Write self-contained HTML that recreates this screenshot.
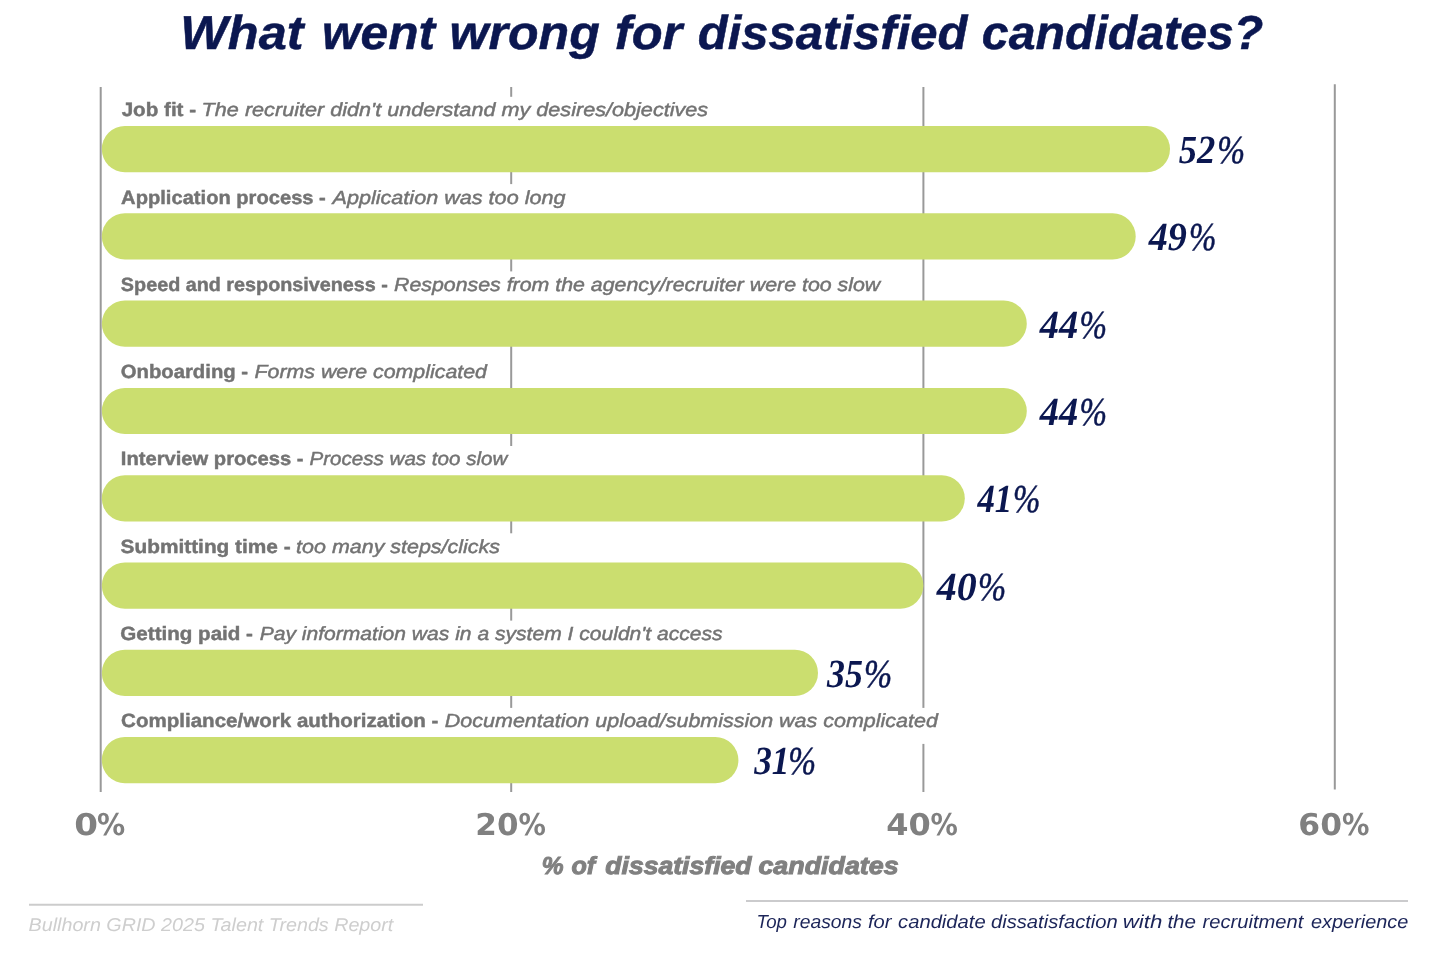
<!DOCTYPE html>
<html lang="en"><head><meta charset="utf-8"><title>What went wrong for dissatisfied candidates?</title>
<style>html,body{margin:0;padding:0;background:#fff}body{width:1440px;height:956px;overflow:hidden}svg{display:block;will-change:transform;text-rendering:geometricPrecision}</style></head><body>
<svg width="1440" height="956" viewBox="0 0 1440 956">
<rect width="1440" height="956" fill="#ffffff"/>
<g><text x="180.19" y="49.0" font-family="Liberation Sans, Arial, sans-serif" font-size="47.6" font-weight="700" font-style="italic" fill="#0b1750" stroke="#0b1750" stroke-width="0.5" textLength="123.34" lengthAdjust="spacingAndGlyphs">What</text> <text x="321.98" y="49.0" font-family="Liberation Sans, Arial, sans-serif" font-size="47.6" font-weight="700" font-style="italic" fill="#0b1750" stroke="#0b1750" stroke-width="0.5" textLength="113.01" lengthAdjust="spacingAndGlyphs">went</text> <text x="449.52" y="49.0" font-family="Liberation Sans, Arial, sans-serif" font-size="47.6" font-weight="700" font-style="italic" fill="#0b1750" stroke="#0b1750" stroke-width="0.5" textLength="150.23" lengthAdjust="spacingAndGlyphs">wrong</text> <text x="614.89" y="49.0" font-family="Liberation Sans, Arial, sans-serif" font-size="47.6" font-weight="700" font-style="italic" fill="#0b1750" stroke="#0b1750" stroke-width="0.5" textLength="67.45" lengthAdjust="spacingAndGlyphs">for</text> <text x="697.74" y="49.0" font-family="Liberation Sans, Arial, sans-serif" font-size="47.6" font-weight="700" font-style="italic" fill="#0b1750" stroke="#0b1750" stroke-width="0.5" textLength="269.75" lengthAdjust="spacingAndGlyphs">dissatisfied</text> <text x="981.87" y="49.0" font-family="Liberation Sans, Arial, sans-serif" font-size="47.6" font-weight="700" font-style="italic" fill="#0b1750" stroke="#0b1750" stroke-width="0.5" textLength="281.43" lengthAdjust="spacingAndGlyphs">candidates?</text></g>
<line x1="100.7" y1="87" x2="100.7" y2="792" stroke="#999999" stroke-width="2"/>
<line x1="511.2" y1="87" x2="511.2" y2="792" stroke="#999999" stroke-width="2"/>
<line x1="923.4" y1="87" x2="923.4" y2="792" stroke="#999999" stroke-width="2"/>
<line x1="1334.8" y1="84.3" x2="1334.8" y2="789.5" stroke="#999999" stroke-width="2"/>
<rect x="104" y="96.8" width="620.0" height="36" fill="#ffffff"/>
<rect x="101.8" y="126.0" width="1068.2" height="46.2" rx="23.1" ry="23.1" fill="#cbde6f"/>
<text x="121.66" y="116.0" font-family="Liberation Sans, Arial, sans-serif" font-size="19.2" font-weight="700" fill="#737373" stroke="#737373" stroke-width="0.45" textLength="74.43" lengthAdjust="spacingAndGlyphs">Job fit -</text>
<text x="201.63" y="116.0" font-family="Liberation Sans, Arial, sans-serif" font-size="19.0" font-style="italic" fill="#737373" stroke="#737373" stroke-width="0.45" textLength="506.55" lengthAdjust="spacingAndGlyphs">The recruiter didn't understand my desires/objectives</text>
<g><text x="1178.64" y="163.0" font-family="Liberation Serif, Times New Roman, serif" font-size="39.9" font-style="italic" font-weight="700" fill="#0b1750" textLength="36.56" lengthAdjust="spacingAndGlyphs">52</text><text x="1217.19" y="163.0" font-family="Liberation Serif, Times New Roman, serif" font-size="39.3" font-style="italic" fill="#0b1750" stroke="#0b1750" stroke-width="0.5" textLength="27.83" lengthAdjust="spacingAndGlyphs">%</text></g>
<rect x="104" y="184.1" width="477.8" height="36" fill="#ffffff"/>
<rect x="101.8" y="213.3" width="1033.9" height="46.2" rx="23.1" ry="23.1" fill="#cbde6f"/>
<text x="121.14" y="204.0" font-family="Liberation Sans, Arial, sans-serif" font-size="19.2" font-weight="700" fill="#737373" stroke="#737373" stroke-width="0.45" textLength="204.70" lengthAdjust="spacingAndGlyphs">Application process -</text>
<text x="332.53" y="204.0" font-family="Liberation Sans, Arial, sans-serif" font-size="19.0" font-style="italic" fill="#737373" stroke="#737373" stroke-width="0.45" textLength="233.00" lengthAdjust="spacingAndGlyphs">Application was too long</text>
<g><text x="1148.77" y="250.0" font-family="Liberation Serif, Times New Roman, serif" font-size="39.9" font-style="italic" font-weight="700" fill="#0b1750" textLength="38.14" lengthAdjust="spacingAndGlyphs">49</text><text x="1188.96" y="250.0" font-family="Liberation Serif, Times New Roman, serif" font-size="39.3" font-style="italic" fill="#0b1750" stroke="#0b1750" stroke-width="0.5" textLength="27.36" lengthAdjust="spacingAndGlyphs">%</text></g>
<rect x="104" y="271.4" width="793.7" height="36" fill="#ffffff"/>
<rect x="101.8" y="300.6" width="925.0" height="46.2" rx="23.1" ry="23.1" fill="#cbde6f"/>
<text x="120.86" y="291.0" font-family="Liberation Sans, Arial, sans-serif" font-size="19.2" font-weight="700" fill="#737373" stroke="#737373" stroke-width="0.45" textLength="267.08" lengthAdjust="spacingAndGlyphs">Speed and responsiveness -</text>
<text x="393.97" y="291.0" font-family="Liberation Sans, Arial, sans-serif" font-size="19.0" font-style="italic" fill="#737373" stroke="#737373" stroke-width="0.45" textLength="486.29" lengthAdjust="spacingAndGlyphs">Responses from the agency/recruiter were too slow</text>
<g><text x="1039.64" y="338.0" font-family="Liberation Serif, Times New Roman, serif" font-size="39.9" font-style="italic" font-weight="700" fill="#0b1750" textLength="38.50" lengthAdjust="spacingAndGlyphs">44</text><text x="1079.43" y="338.0" font-family="Liberation Serif, Times New Roman, serif" font-size="39.3" font-style="italic" fill="#0b1750" stroke="#0b1750" stroke-width="0.5" textLength="27.55" lengthAdjust="spacingAndGlyphs">%</text></g>
<rect x="104" y="358.7" width="400.0" height="36" fill="#ffffff"/>
<rect x="101.8" y="387.9" width="925.0" height="46.2" rx="23.1" ry="23.1" fill="#cbde6f"/>
<text x="120.72" y="378.0" font-family="Liberation Sans, Arial, sans-serif" font-size="19.2" font-weight="700" fill="#737373" stroke="#737373" stroke-width="0.45" textLength="127.36" lengthAdjust="spacingAndGlyphs">Onboarding -</text>
<text x="254.52" y="378.0" font-family="Liberation Sans, Arial, sans-serif" font-size="19.0" font-style="italic" fill="#737373" stroke="#737373" stroke-width="0.45" textLength="232.40" lengthAdjust="spacingAndGlyphs">Forms were complicated</text>
<g><text x="1039.64" y="425.0" font-family="Liberation Serif, Times New Roman, serif" font-size="39.9" font-style="italic" font-weight="700" fill="#0b1750" textLength="38.50" lengthAdjust="spacingAndGlyphs">44</text><text x="1079.43" y="425.0" font-family="Liberation Serif, Times New Roman, serif" font-size="39.3" font-style="italic" fill="#0b1750" stroke="#0b1750" stroke-width="0.5" textLength="27.55" lengthAdjust="spacingAndGlyphs">%</text></g>
<rect x="104" y="446.0" width="420.9" height="36" fill="#ffffff"/>
<rect x="101.8" y="475.2" width="863.0" height="46.2" rx="23.1" ry="23.1" fill="#cbde6f"/>
<text x="120.80" y="465.0" font-family="Liberation Sans, Arial, sans-serif" font-size="19.2" font-weight="700" fill="#737373" stroke="#737373" stroke-width="0.45" textLength="182.74" lengthAdjust="spacingAndGlyphs">Interview process -</text>
<text x="309.50" y="465.0" font-family="Liberation Sans, Arial, sans-serif" font-size="19.0" font-style="italic" fill="#737373" stroke="#737373" stroke-width="0.45" textLength="197.85" lengthAdjust="spacingAndGlyphs">Process was too slow</text>
<g><text x="977.42" y="512.0" font-family="Liberation Serif, Times New Roman, serif" font-size="39.9" font-style="italic" font-weight="700" fill="#0b1750" textLength="34.89" lengthAdjust="spacingAndGlyphs">41</text><text x="1012.96" y="512.0" font-family="Liberation Serif, Times New Roman, serif" font-size="39.3" font-style="italic" fill="#0b1750" stroke="#0b1750" stroke-width="0.5" textLength="27.36" lengthAdjust="spacingAndGlyphs">%</text></g>
<rect x="104" y="533.3" width="412.0" height="36" fill="#ffffff"/>
<rect x="101.8" y="562.5" width="821.6" height="46.2" rx="23.1" ry="23.1" fill="#cbde6f"/>
<text x="120.63" y="553.0" font-family="Liberation Sans, Arial, sans-serif" font-size="19.2" font-weight="700" fill="#737373" stroke="#737373" stroke-width="0.45" textLength="170.00" lengthAdjust="spacingAndGlyphs">Submitting time -</text>
<text x="296.14" y="553.0" font-family="Liberation Sans, Arial, sans-serif" font-size="19.0" font-style="italic" fill="#737373" stroke="#737373" stroke-width="0.45" textLength="203.87" lengthAdjust="spacingAndGlyphs">too many steps/clicks</text>
<g><text x="936.86" y="600.0" font-family="Liberation Serif, Times New Roman, serif" font-size="39.9" font-style="italic" font-weight="700" fill="#0b1750" textLength="39.94" lengthAdjust="spacingAndGlyphs">40</text><text x="977.91" y="600.0" font-family="Liberation Serif, Times New Roman, serif" font-size="39.3" font-style="italic" fill="#0b1750" stroke="#0b1750" stroke-width="0.5" textLength="28.19" lengthAdjust="spacingAndGlyphs">%</text></g>
<rect x="104" y="620.6" width="634.2" height="36" fill="#ffffff"/>
<rect x="101.8" y="649.8" width="716.2" height="46.2" rx="23.1" ry="23.1" fill="#cbde6f"/>
<text x="120.35" y="640.0" font-family="Liberation Sans, Arial, sans-serif" font-size="19.2" font-weight="700" fill="#737373" stroke="#737373" stroke-width="0.45" textLength="132.62" lengthAdjust="spacingAndGlyphs">Getting paid -</text>
<text x="259.67" y="640.0" font-family="Liberation Sans, Arial, sans-serif" font-size="19.0" font-style="italic" fill="#737373" stroke="#737373" stroke-width="0.45" textLength="462.97" lengthAdjust="spacingAndGlyphs">Pay information was in a system I couldn't access</text>
<g><text x="827.00" y="687.0" font-family="Liberation Serif, Times New Roman, serif" font-size="39.9" font-style="italic" font-weight="700" fill="#0b1750" textLength="35.92" lengthAdjust="spacingAndGlyphs">35</text><text x="863.91" y="687.0" font-family="Liberation Serif, Times New Roman, serif" font-size="39.3" font-style="italic" fill="#0b1750" stroke="#0b1750" stroke-width="0.5" textLength="28.19" lengthAdjust="spacingAndGlyphs">%</text></g>
<rect x="104" y="707.9" width="850.6" height="36" fill="#ffffff"/>
<rect x="101.8" y="737.1" width="636.6" height="46.2" rx="23.1" ry="23.1" fill="#cbde6f"/>
<text x="121.07" y="727.0" font-family="Liberation Sans, Arial, sans-serif" font-size="19.2" font-weight="700" fill="#737373" stroke="#737373" stroke-width="0.45" textLength="317.35" lengthAdjust="spacingAndGlyphs">Compliance/work authorization -</text>
<text x="444.87" y="727.0" font-family="Liberation Sans, Arial, sans-serif" font-size="19.0" font-style="italic" fill="#737373" stroke="#737373" stroke-width="0.45" textLength="493.02" lengthAdjust="spacingAndGlyphs">Documentation upload/submission was complicated</text>
<g><text x="754.20" y="774.0" font-family="Liberation Serif, Times New Roman, serif" font-size="39.9" font-style="italic" font-weight="700" fill="#0b1750" textLength="35.33" lengthAdjust="spacingAndGlyphs">31</text><text x="788.19" y="774.0" font-family="Liberation Serif, Times New Roman, serif" font-size="39.3" font-style="italic" fill="#0b1750" stroke="#0b1750" stroke-width="0.5" textLength="27.83" lengthAdjust="spacingAndGlyphs">%</text></g>
<g><text x="74.17" y="835.0" font-family="DejaVu Sans, Verdana, sans-serif" font-size="30.0" font-weight="700" fill="#808080" textLength="23.73" lengthAdjust="spacingAndGlyphs">0</text><text x="96.88" y="835.0" font-family="DejaVu Sans, Verdana, sans-serif" font-size="30.0" font-weight="700" fill="#808080" textLength="28.17" lengthAdjust="spacingAndGlyphs">%</text></g>
<g><text x="475.28" y="835.0" font-family="DejaVu Sans, Verdana, sans-serif" font-size="30.0" font-weight="700" fill="#808080" textLength="43.23" lengthAdjust="spacingAndGlyphs">20</text><text x="518.55" y="835.0" font-family="DejaVu Sans, Verdana, sans-serif" font-size="30.0" font-weight="700" fill="#808080" textLength="27.38" lengthAdjust="spacingAndGlyphs">%</text></g>
<g><text x="886.26" y="835.0" font-family="DejaVu Sans, Verdana, sans-serif" font-size="30.0" font-weight="700" fill="#808080" textLength="44.52" lengthAdjust="spacingAndGlyphs">40</text><text x="930.57" y="835.0" font-family="DejaVu Sans, Verdana, sans-serif" font-size="30.0" font-weight="700" fill="#808080" textLength="27.33" lengthAdjust="spacingAndGlyphs">%</text></g>
<g><text x="1298.36" y="835.0" font-family="DejaVu Sans, Verdana, sans-serif" font-size="30.0" font-weight="700" fill="#808080" textLength="43.71" lengthAdjust="spacingAndGlyphs">60</text><text x="1341.96" y="835.0" font-family="DejaVu Sans, Verdana, sans-serif" font-size="30.0" font-weight="700" fill="#808080" textLength="27.44" lengthAdjust="spacingAndGlyphs">%</text></g>
<g><text x="541.63" y="874.0" font-family="Liberation Sans, Arial, sans-serif" font-size="24.6" font-weight="700" font-style="italic" fill="#808080" stroke="#808080" stroke-width="1" textLength="21.81" lengthAdjust="spacingAndGlyphs">%</text> <text x="571.49" y="874.0" font-family="Liberation Sans, Arial, sans-serif" font-size="24.6" font-weight="700" font-style="italic" fill="#808080" stroke="#808080" stroke-width="1" textLength="23.76" lengthAdjust="spacingAndGlyphs">of</text> <text x="605.24" y="874.0" font-family="Liberation Sans, Arial, sans-serif" font-size="24.6" font-weight="700" font-style="italic" fill="#808080" stroke="#808080" stroke-width="1" textLength="146.39" lengthAdjust="spacingAndGlyphs">dissatisfied</text> <text x="758.42" y="874.0" font-family="Liberation Sans, Arial, sans-serif" font-size="24.6" font-weight="700" font-style="italic" fill="#808080" stroke="#808080" stroke-width="1" textLength="140.22" lengthAdjust="spacingAndGlyphs">candidates</text></g>
<line x1="29" y1="904.7" x2="423" y2="904.7" stroke="#cccccc" stroke-width="2"/>
<text x="28.57" y="931.0" font-family="Liberation Sans, Arial, sans-serif" font-size="18.5" font-style="italic" fill="#cecece" textLength="364.76" lengthAdjust="spacingAndGlyphs">Bullhorn GRID 2025 Talent Trends Report</text>
<line x1="746" y1="901" x2="1408" y2="901" stroke="#cbcbcd" stroke-width="2"/>
<g><text x="756.57" y="928.0" font-family="Liberation Sans, Arial, sans-serif" font-size="18.8" font-style="italic" fill="#1c2559" textLength="30.42" lengthAdjust="spacingAndGlyphs">Top</text> <text x="793.26" y="928.0" font-family="Liberation Sans, Arial, sans-serif" font-size="18.8" font-style="italic" fill="#1c2559" textLength="68.78" lengthAdjust="spacingAndGlyphs">reasons</text> <text x="867.98" y="928.0" font-family="Liberation Sans, Arial, sans-serif" font-size="18.8" font-style="italic" fill="#1c2559" textLength="23.53" lengthAdjust="spacingAndGlyphs">for</text> <text x="898.07" y="928.0" font-family="Liberation Sans, Arial, sans-serif" font-size="18.8" font-style="italic" fill="#1c2559" textLength="87.62" lengthAdjust="spacingAndGlyphs">candidate</text> <text x="990.92" y="928.0" font-family="Liberation Sans, Arial, sans-serif" font-size="18.8" font-style="italic" fill="#1c2559" textLength="126.94" lengthAdjust="spacingAndGlyphs">dissatisfaction</text> <text x="1122.68" y="928.0" font-family="Liberation Sans, Arial, sans-serif" font-size="18.8" font-style="italic" fill="#1c2559" textLength="39.63" lengthAdjust="spacingAndGlyphs">with</text> <text x="1167.40" y="928.0" font-family="Liberation Sans, Arial, sans-serif" font-size="18.8" font-style="italic" fill="#1c2559" textLength="28.66" lengthAdjust="spacingAndGlyphs">the</text> <text x="1202.51" y="928.0" font-family="Liberation Sans, Arial, sans-serif" font-size="18.8" font-style="italic" fill="#1c2559" textLength="100.77" lengthAdjust="spacingAndGlyphs">recruitment</text> <text x="1311.06" y="928.0" font-family="Liberation Sans, Arial, sans-serif" font-size="18.8" font-style="italic" fill="#1c2559" textLength="97.27" lengthAdjust="spacingAndGlyphs">experience</text></g>
</svg></body></html>
